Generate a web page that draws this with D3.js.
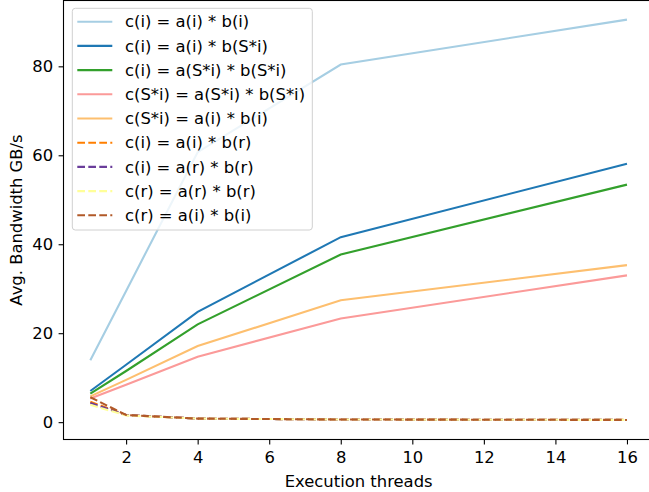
<!DOCTYPE html>
<html>
<head>
<meta charset="utf-8">
<script src="https://cdn.jsdelivr.net/npm/d3@7"></script>
<style>
  body { margin: 0; background: #fff; }
  text { font-family: "DejaVu Sans", sans-serif; }
</style>
</head>
<body>
<script>
var width = 649, height = 492;

var threads = [1, 2, 4, 8, 16];
var labels = [
  "c(i) = a(i) * b(i)",
  "c(i) = a(i) * b(S*i)",
  "c(i) = a(S*i) * b(S*i)",
  "c(S*i) = a(S*i) * b(S*i)",
  "c(S*i) = a(i) * b(i)",
  "c(i) = a(i) * b(r)",
  "c(i) = a(r) * b(r)",
  "c(r) = a(r) * b(r)",
  "c(r) = a(i) * b(i)"
];
var s_ii = [13.9, 29.5, 60.7, 80.4, 90.5];
var s_iSi = [7.0, 12.9, 24.8, 41.6, 58.1];
var s_SiSi = [6.4, 11.5, 22.0, 37.7, 53.4];
var s_SSiSi = [5.3, 8.4, 14.7, 23.3, 33.0];
var s_Sii = [5.8, 9.5, 17.1, 27.4, 35.3];
var s_iir = [4.6, 1.6, 0.8, 0.6, 0.5];
var s_irr = [4.3, 1.6, 0.8, 0.6, 0.5];
var s_rrr = [3.9, 1.5, 0.8, 0.6, 0.5];
var s_rii = [5.6, 1.6, 0.8, 0.6, 0.5];
var colors = ["#a6cee3", "#1f78b4", "#33a02c", "#fb9a99", "#fdbf6f",
              "#ff7f00", "#6a3d9a", "#ffff99", "#b15928"];
var dashed = [false, false, false, false, false, true, true, true, true];
var xTicks = [2, 4, 6, 8, 10, 12, 14, 16];
var yTicks = [0, 20, 40, 60, 80];

var series = [s_ii, s_iSi, s_SiSi, s_SSiSi, s_Sii, s_iir, s_irr, s_rrr, s_rii];

var fs = "16.4px";

// "top" is taken by window.top, so prefix these
var pLeft = 63.5, pRight = 653.8, pTop = 0.5, pBottom = 439.5;

var svg = d3.select("body")
            .append("svg")
            .attr("width", width)
            .attr("height", height);

var x = d3.scaleLinear().domain([0.25, 16.75]).range([pLeft, pRight]);
var y = d3.scaleLinear().domain([-3.9, 94.8]).range([pBottom, pTop]);

var line = d3.line()
    .x(function(d, i) { return x(threads[i]); })
    .y(function(d) { return y(d); });

svg.append("g")
    .selectAll("path")
    .data(series)
    .enter().append("path")
    .attr("d", line)
    .attr("fill", "none")
    .attr("stroke", function(d, i) { return colors[i]; })
    .attr("stroke-width", 2.1)
    .attr("stroke-dasharray", function(d, i) { return dashed[i] ? "7.7,3.3" : null; });

// axes
var xAxis = svg.append("g")
    .attr("transform", "translate(0," + pBottom + ")")
    .call(d3.axisBottom(x).tickValues(xTicks).tickSize(4.9).tickPadding(7).tickFormat(d3.format("d")));
var yAxis = svg.append("g")
    .attr("transform", "translate(" + pLeft + ",0)")
    .call(d3.axisLeft(y).tickValues(yTicks).tickSize(4.9).tickPadding(5.5).tickFormat(d3.format("d")));

[xAxis, yAxis].forEach(function(a) {
  a.select(".domain").remove();
  a.selectAll("line").attr("stroke", "#000").attr("stroke-width", 1.1);
  a.selectAll("text").attr("fill", "#000").style("font-size", fs).style("font-family", "DejaVu Sans");
});

svg.append("rect")
    .attr("x", pLeft).attr("y", pTop)
    .attr("width", pRight - pLeft).attr("height", pBottom - pTop)
    .attr("fill", "none").attr("stroke", "#000").attr("stroke-width", 1.1);

svg.append("text")
    .attr("x", (pLeft + pRight) / 2).attr("y", 487)
    .attr("text-anchor", "middle")
    .style("font-size", fs)
    .text("Execution threads");

svg.append("text")
    .attr("transform", "translate(22," + (pBottom + pTop) / 2 + ") rotate(-90)")
    .attr("text-anchor", "middle")
    .style("font-size", fs)
    .text("Avg. Bandwidth GB/s");

// legend
var legend = svg.append("g");
legend.append("rect")
    .attr("x", 72.3).attr("y", 8.3)
    .attr("width", 240).attr("height", 221.7)
    .attr("rx", 3)
    .attr("fill", "#fff").attr("fill-opacity", 0.8)
    .attr("stroke", "#d0d0d0").attr("stroke-width", 1);

var item = legend.selectAll("g.item")
    .data(labels)
    .enter().append("g")
    .attr("class", "item")
    .attr("transform", function(d, i) { return "translate(0," + (21.7 + i * 24.2) + ")"; });

item.append("line")
    .attr("x1", 77.3).attr("x2", 112.3)
    .attr("stroke", function(d, i) { return colors[i]; })
    .attr("stroke-width", 2.1)
    .attr("stroke-dasharray", function(d, i) { return dashed[i] ? "7.7,3.3" : null; });

item.append("text")
    .attr("x", 125)
    .attr("dy", "0.35em")
    .style("font-size", fs)
    .text(function(d) { return d; });
</script>
</body>
</html>
